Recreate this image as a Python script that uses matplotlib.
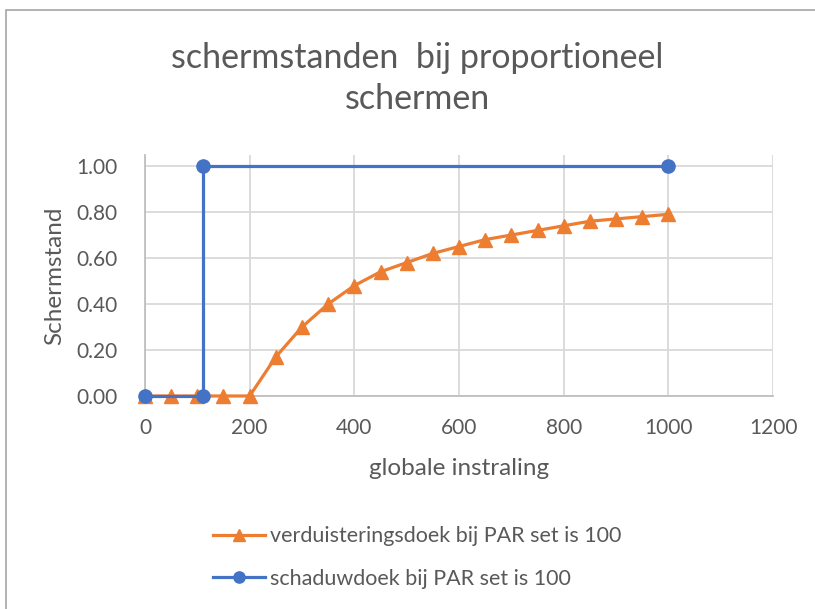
import matplotlib.pyplot as plt
from matplotlib.patches import Rectangle

# globale instraling (W/m2) en schermstand
x_verduistering = [0, 50, 100, 150, 200, 250, 300, 350, 400, 450, 500,
                   550, 600, 650, 700, 750, 800, 850, 900, 950, 1000]
y_verduistering = [0.0, 0.0, 0.0, 0.0, 0.0, 0.17, 0.30, 0.40, 0.48, 0.54, 0.58,
                   0.62, 0.65, 0.68, 0.70, 0.72, 0.74, 0.76, 0.77, 0.78, 0.79]

x_schaduw = [0, 110, 110, 1000]
y_schaduw = [0.0, 0.0, 1.0, 1.0]

x_ticks = [0, 200, 400, 600, 800, 1000, 1200]
y_ticks = [0.0, 0.2, 0.4, 0.6, 0.8, 1.0]

oranje = "#ED7D31"
blauw = "#4472C4"
tekst = "#595959"

plt.rcParams['font.family'] = ['Lato', 'DejaVu Sans']

fig = plt.figure(figsize=(8.15, 6.09), dpi=100)
ax = fig.add_axes([0.1779, 0.3498, 0.7706, 0.3957])

# kader rond de grafiek
fig.patches.append(Rectangle((0.007, -0.05), 1.2, 1.034, transform=fig.transFigure,
                             fill=False, edgecolor="#a6a6a6", linewidth=1.2))

ax.plot(x_verduistering, y_verduistering, color=oranje, linewidth=2.3,
        marker="^", markersize=10, clip_on=False, zorder=3,
        label="verduisteringsdoek bij PAR set is 100")
ax.plot(x_schaduw, y_schaduw, color=blauw, linewidth=2.3,
        marker="o", markersize=9.5, clip_on=False, zorder=4,
        label="schaduwdoek bij PAR set is 100")

ax.set_xlim(0, 1200)
ax.set_ylim(0, 1.048)
ax.set_xticks(x_ticks)
ax.set_yticks(y_ticks)
ax.set_yticklabels([f"{v:.2f}" for v in y_ticks])

ax.grid(True, color="#d9d9d9", linewidth=1.3)
ax.set_axisbelow(True)
for side in ["top", "right"]:
    ax.spines[side].set_visible(False)
for side in ["left", "bottom"]:
    ax.spines[side].set_color("#bfbfbf")
    ax.spines[side].set_linewidth(1.3)
ax.tick_params(length=0, labelsize=15, labelcolor=tekst)
ax.tick_params(axis="x", pad=16)
ax.tick_params(axis="y", pad=20)

ax.set_xlabel("globale instraling", fontsize=17.5, color=tekst, labelpad=14)
ax.set_ylabel("Schermstand", fontsize=17.5, color=tekst, labelpad=8)

fig.text(0.512, 0.871, "schermstanden  bij proportioneel\nschermen",
         ha="center", va="center", fontsize=24.5, color=tekst, linespacing=1.35)

ax.legend(loc="center left", bbox_to_anchor=(0.077, -0.67), frameon=False,
          fontsize=15.5, labelcolor=tekst, handlelength=2.45, handletextpad=0.2,
          labelspacing=1.05, markerscale=0.85)

fig.savefig("out.png", dpi=100)
